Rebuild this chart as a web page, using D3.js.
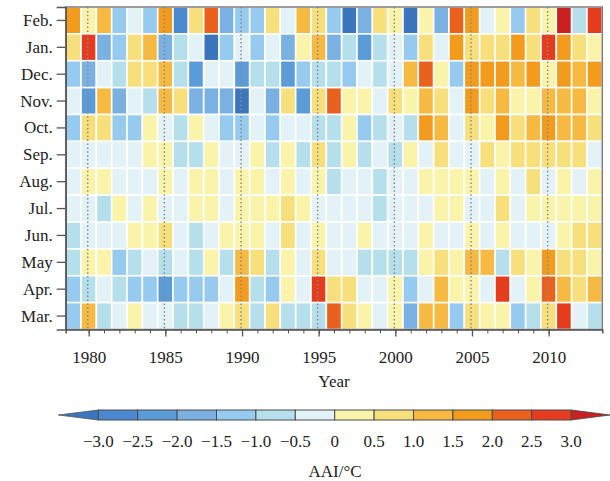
<!DOCTYPE html>
<html>
<head>
<meta charset="utf-8">
<script src="https://cdn.jsdelivr.net/npm/d3@7"></script>
<style>
  body { margin: 0; background: #fff; }
  svg { display: block; }
  text { font-family: "Liberation Serif", "Times New Roman", serif; fill: #222; }
</style>
</head>
<body>
<svg id="chart" width="610" height="481"></svg>
<script>
// Years along x, one column each
const years = [1979, 1980, 1981, 1982, 1983, 1984, 1985, 1986, 1987, 1988, 1989, 1990,
  1991, 1992, 1993, 1994, 1995, 1996, 1997, 1998, 1999, 2000, 2001, 2002, 2003, 2004,
  2005, 2006, 2007, 2008, 2009, 2010, 2011, 2012, 2013];

// Months from top row to bottom row
const months = ["Feb.", "Jan.", "Dec.", "Nov.", "Oct.", "Sep.", "Aug.", "Jul.", "Jun.", "May", "Apr.", "Mar."];

// AAI (°C) per month, 1979–2013
const feb = [1.75, 0.25, 1.25, -1.25, -0.25, -1.25, 1.75, -2.75, 0.75, 2.25, -1.75, -1.25, -1.25, 0.75, -0.25, 1.25, 0.75, -1.25, -3.2, -1.75, 0.75, 0.25, -3.2, 0.25, -1.75, 2.25, 1.75, -0.25, 0.25, -1.25, 0.75, 0.25, 3.2, -0.75, 2.75];
const jan = [0.75, 2.75, -1.75, -1.25, 0.75, 1.25, -1.75, -0.75, -0.25, -3.2, -1.25, -0.25, -1.25, -0.25, -1.75, 0.25, 1.25, -1.75, -0.75, -2.25, -0.75, -0.25, -1.25, 0.75, -0.25, 1.75, 0.75, 0.75, 0.75, 1.75, 0.75, 2.75, 1.75, 0.75, 0.25];
const dec = [-1.25, -1.75, -0.25, -0.75, 0.75, 0.75, 1.25, -0.75, -2.25, -0.25, -0.25, -2.25, -0.75, -0.75, -2.25, -1.25, -0.75, -0.75, -1.25, -0.25, -0.75, -0.25, 1.25, 2.25, 0.25, -1.25, 1.75, 1.75, 1.75, 1.25, 1.75, 0.25, 1.75, 1.25, 1.75];
const nov = [-0.25, -2.25, 1.25, -1.75, -0.25, -0.75, 1.25, 0.75, -1.75, -1.75, -1.75, -3.2, -0.25, -1.75, 0.75, -2.25, 0.75, 2.25, 0.25, 0.25, -0.25, 0.75, 0.25, 1.25, 0.75, -0.25, 1.75, 0.75, 1.25, 0.25, 0.25, 1.25, 1.25, 1.25, 0.25];
const oct = [-1.25, 0.75, 0.75, -1.25, -1.25, 0.25, -0.25, -0.75, 0.25, -0.25, -1.25, -1.25, -0.25, -1.25, -0.25, -0.25, -0.75, -0.75, 0.25, -1.25, -0.75, -0.25, -0.75, 1.75, 1.25, -0.25, 0.75, 0.25, 1.75, 0.75, 1.25, 1.75, 1.25, 1.25, 0.75];
const sep = [-0.25, -0.25, -0.25, -0.25, -0.25, 0.25, 0.25, -0.75, -0.75, 0.25, -0.25, -0.25, 0.25, -0.75, 0.25, -0.75, 0.75, -0.75, 0.25, -0.75, -0.25, -0.75, 0.25, -0.25, 0.75, -0.25, -0.25, 0.75, 0.25, 0.75, 0.75, 0.75, 0.75, 0.75, -0.25];
const aug = [-0.25, 0.25, 0.25, -0.25, -0.25, -0.25, 0.25, -0.25, 0.25, 0.25, -0.25, 0.25, 0.25, -0.25, 0.25, -0.25, 0.25, -0.75, -0.25, -0.25, -0.75, -0.25, -0.25, 0.25, 0.25, 0.25, 0.25, -0.25, 0.25, -0.25, 0.75, -0.25, 0.25, -0.25, 0.25];
const jul = [-0.25, -0.25, -0.75, 0.25, -0.25, 0.25, -0.25, -0.25, 0.25, 0.25, -0.25, 0.25, 0.25, 0.25, 0.75, 0.25, -0.25, -0.25, -0.25, -0.25, -0.75, -0.25, -0.25, -0.25, 0.25, 0.25, -0.25, -0.25, 0.75, -0.25, 0.25, 0.25, 0.25, 0.25, 0.25];
const jun = [-0.75, -0.25, -0.25, -0.25, 0.25, 0.25, 0.75, -0.25, -0.75, -0.25, 0.25, 0.25, 0.25, -0.25, 0.75, -0.25, 0.25, -0.25, -0.25, 0.25, -0.25, -0.25, -0.25, 0.25, -0.25, -0.25, 0.25, -0.25, 0.25, -0.25, -0.25, -0.25, 0.25, 0.75, 0.75];
const may = [-0.75, 0.25, 0.25, -1.25, -0.75, -0.25, -0.75, -0.25, -0.75, 0.25, -0.75, 1.25, 0.75, -0.75, 0.25, -0.25, 0.75, -0.25, -0.25, -0.75, -0.75, -0.75, -0.75, 0.25, 0.75, 0.25, 1.25, 1.25, -0.75, 0.75, 0.25, 1.75, 0.75, 0.75, 0.25];
const apr = [-1.25, -0.75, -0.25, -0.75, -1.25, -1.25, -2.25, -1.25, -1.25, -1.25, -0.25, 1.75, -0.75, -1.25, 0.25, -0.25, 2.75, 0.75, 0.75, -0.25, -0.25, 0.25, -1.25, -0.25, 1.25, 0.25, 0.25, -0.25, 2.75, -0.25, 0.25, 2.25, 1.25, 0.75, 1.25];
const mar = [-1.25, 1.25, -0.75, -0.25, 0.25, -0.25, -0.25, -0.75, -0.75, -0.25, 0.25, 0.75, -0.75, 0.75, -0.75, -0.75, -0.75, 2.25, 0.75, 0.25, -0.25, 0.25, -1.75, 1.25, 1.25, -1.25, 0.75, 0.25, 0.25, -1.25, -0.75, 0.75, 2.75, -0.25, -0.75];

const monthValues = [feb, jan, dec, nov, oct, sep, aug, jul, jun, may, apr, mar];

// Colour classes: thresholds and fills (end fills are the out-of-range triangles)
const colorBreaks = [-3, -2.5, -2, -1.5, -1, -0.5, 0, 0.5, 1, 1.5, 2, 2.5, 3];
const colorFills = ["#3b75bd", "#4a89cf", "#5b9bd8", "#7ab0e2", "#97caef", "#b5dfea", "#e2f2f6",
  "#faf4ab", "#f7e07b", "#f6ba43", "#f39b1d", "#ea611e", "#e63c1e", "#cb2020"];

// Colour bar tick labels and the dotted reference years
const barTicks = [-3, -2.5, -2, -1.5, -1, -0.5, 0, 0.5, 1, 1.5, 2, 2.5, 3];
const markedYears = [1980, 1985, 1990, 1995, 2000, 2005, 2010];
const minorYears = d3.range(1980, 2011);

const svg = d3.select("#chart");
const plot = { left: 65.7, right: 602.3, top: 7, bottom: 329.5 };
const labelSize = 17;

const x = d3.scaleLinear().domain([1978.5, 2013.5]).range([plot.left, plot.right]);
const y = d3.scaleBand().domain(months).range([plot.top, plot.bottom]);
const color = d3.scaleThreshold().domain(colorBreaks).range(colorFills);

const cells = [];
months.forEach((m, i) => {
  years.forEach((yr, j) => cells.push({ month: m, year: yr, value: monthValues[i][j] }));
});

// Heatmap cells with white gaps
svg.append("g").selectAll("rect").data(cells).join("rect")
  .attr("x", d => x(d.year - 0.5))
  .attr("y", d => y(d.month))
  .attr("width", d => x(d.year + 0.5) - x(d.year - 0.5))
  .attr("height", y.bandwidth())
  .attr("fill", d => color(d.value))
  .attr("stroke", "#fff")
  .attr("stroke-width", 1.6);

// Dotted lines at every fifth year
svg.append("g").selectAll("line").data(markedYears).join("line")
  .attr("x1", d => x(d) - 1).attr("x2", d => x(d) - 1)
  .attr("y1", plot.top).attr("y2", plot.bottom)
  .attr("stroke", "#8a8a8a")
  .attr("stroke-width", 1.5)
  .attr("stroke-dasharray", "1.5,2.4");

// Plot frame
svg.append("rect")
  .attr("x", plot.left).attr("y", plot.top)
  .attr("width", plot.right - plot.left).attr("height", plot.bottom - plot.top)
  .attr("fill", "none").attr("stroke", "#7d7d7d").attr("stroke-width", 1.5);

// Bottom axis: yearly minor ticks, labelled ticks every five years
const minorAxis = svg.append("g")
  .attr("transform", `translate(0,${plot.bottom})`)
  .call(d3.axisBottom(x).tickValues(minorYears).tickSize(4).tickFormat(""));
minorAxis.select(".domain").attr("stroke", "#555").attr("stroke-width", 1.5);
minorAxis.selectAll(".tick line").attr("stroke", "#555");

const majorAxis = svg.append("g")
  .attr("transform", `translate(0,${plot.bottom})`)
  .call(d3.axisBottom(x).tickValues(markedYears).tickSize(7).tickPadding(14).tickFormat(d3.format("d")));
majorAxis.select(".domain").remove();
majorAxis.selectAll(".tick line").attr("stroke", "#555").attr("stroke-width", 1.3);
majorAxis.selectAll(".tick text").attr("font-size", labelSize).attr("fill", "#222")
  .attr("font-family", "Liberation Serif, serif");

// Left axis with month names
const leftAxis = svg.append("g")
  .attr("transform", `translate(${plot.left},0)`)
  .call(d3.axisLeft(y).tickSize(9).tickPadding(4));
leftAxis.select(".domain").attr("stroke", "#555").attr("stroke-width", 1.5);
leftAxis.selectAll(".tick line").attr("stroke", "#555").attr("stroke-width", 1.3);
leftAxis.selectAll(".tick text").attr("font-size", labelSize).attr("fill", "#222")
  .attr("font-family", "Liberation Serif, serif");

svg.append("text")
  .attr("x", (plot.left + plot.right) / 2).attr("y", 387)
  .attr("text-anchor", "middle").attr("font-size", labelSize)
  .text("Year");

// Colour bar
const bar = { left: 98.3, right: 571.1, top: 410, bottom: 420, tip: 40 };
const cb = d3.scaleLinear().domain([-3, 3]).range([bar.left, bar.right]);
const barG = svg.append("g");
const mid = (bar.top + bar.bottom) / 2;

barG.append("path")
  .attr("d", `M${bar.left},${bar.top}L${bar.left - bar.tip},${mid}L${bar.left},${bar.bottom}Z`)
  .attr("fill", colorFills[0]).attr("stroke", "#555").attr("stroke-width", 0.8);
barG.append("path")
  .attr("d", `M${bar.right},${bar.top}L${bar.right + bar.tip - 1},${mid}L${bar.right},${bar.bottom}Z`)
  .attr("fill", colorFills[colorFills.length - 1]).attr("stroke", "#444").attr("stroke-width", 0.8);

const classes = d3.pairs(colorBreaks).map(([a, b]) => ({ a, b }));
barG.selectAll("rect").data(classes).join("rect")
  .attr("x", d => cb(d.a))
  .attr("y", bar.top)
  .attr("width", d => cb(d.b) - cb(d.a))
  .attr("height", bar.bottom - bar.top)
  .attr("fill", d => color((d.a + d.b) / 2))
  .attr("stroke", "#4a4a4a").attr("stroke-width", 1);

const fmt = d => d === 0 ? "0" : (d < 0 ? "\u2212" : "") + Math.abs(d).toFixed(1);
barG.selectAll("text.tick").data(barTicks).join("text")
  .attr("class", "tick")
  .attr("x", d => cb(d))
  .attr("y", 447)
  .attr("text-anchor", "middle")
  .attr("font-size", labelSize)
  .text(fmt);

svg.append("text")
  .attr("x", 335).attr("y", 477)
  .attr("text-anchor", "middle").attr("font-size", labelSize)
  .text("AAI/°C");
</script>
</body>
</html>
